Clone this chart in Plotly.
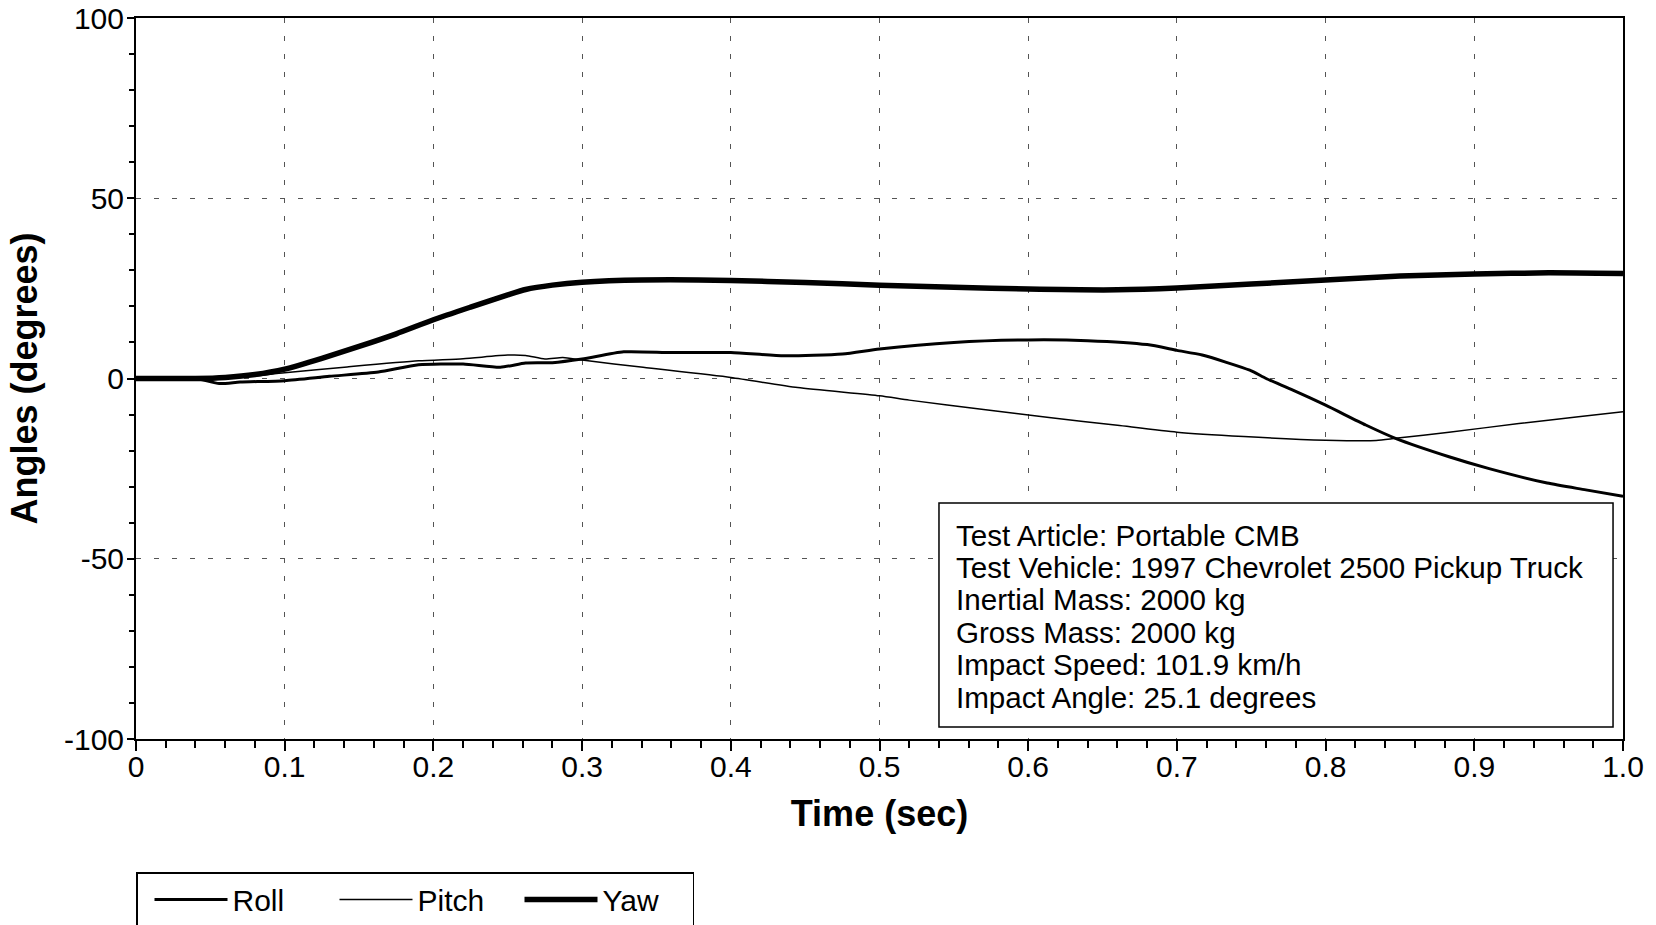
import plotly.graph_objects as go

# ---- data ----
yaw_t = [0, 0.04, 0.06, 0.08, 0.1, 0.125, 0.15, 0.175, 0.2, 0.225, 0.25, 0.262, 0.28, 0.3, 0.34,
         0.4, 0.45, 0.5, 0.55, 0.6, 0.66, 0.7, 0.75, 0.8, 0.85, 0.9, 0.95, 1.0]
yaw_v = [0, 0, 0.3, 1.1, 2.6, 5.6, 8.9, 12.4, 16.3, 19.8, 23.2, 24.7, 25.9, 26.7, 27.3,
         27.2, 26.6, 25.9, 25.3, 24.8, 24.6, 25.1, 26.2, 27.3, 28.4, 29.0, 29.3, 29.1]

roll_t = [0, 0.04, 0.056, 0.07, 0.1, 0.13, 0.163, 0.19, 0.22, 0.245, 0.262, 0.28, 0.3, 0.328,
          0.36, 0.4, 0.436, 0.475, 0.5, 0.55, 0.6, 0.64, 0.68, 0.7, 0.717, 0.749, 0.76, 0.778,
          0.8, 0.827, 0.847, 0.883, 0.91, 0.949, 0.975, 1.0]
roll_v = [0, 0, -1.4, -1.0, -0.6, 0.6, 1.8, 3.8, 4.0, 3.1, 4.3, 4.4, 5.4, 7.4,
          7.2, 7.2, 6.3, 6.8, 8.2, 10.0, 10.7, 10.5, 9.4, 7.8, 6.5, 2.3, 0.0, -3.2,
          -7.4, -12.9, -16.6, -21.7, -25.0, -29.0, -30.9, -32.7]

pitch_t = [0, 0.05, 0.07, 0.1, 0.142, 0.19, 0.22, 0.25, 0.262, 0.275, 0.287, 0.3, 0.341, 0.4,
           0.445, 0.5, 0.52, 0.57, 0.614, 0.66, 0.7, 0.745, 0.8, 0.834, 0.847, 0.883, 0.93, 0.97, 1.0]
pitch_v = [0, 0, 0.3, 1.6, 3.2, 4.9, 5.5, 6.5, 6.4, 5.4, 5.8, 5.1, 3.1, 0.3,
           -2.5, -4.8, -6.0, -8.6, -10.8, -13.0, -14.9, -16.1, -17.1, -17.2, -16.6, -14.9, -12.5, -10.6, -9.2]

x_tick_vals = [0, 0.1, 0.2, 0.3, 0.4, 0.5, 0.6, 0.7, 0.8, 0.9, 1.0]
x_tick_text = ["0", "0.1", "0.2", "0.3", "0.4", "0.5", "0.6", "0.7", "0.8", "0.9", "1.0"]
y_tick_vals = [100, 50, 0, -50, -100]
y_tick_text = ["100", "50", "0", "-50", "-100"]

info_lines = [
    "Test Article: Portable CMB",
    "Test Vehicle: 1997 Chevrolet 2500 Pickup Truck",
    "Inertial Mass: 2000 kg",
    "Gross Mass: 2000 kg",
    "Impact Speed: 101.9 km/h",
    "Impact Angle: 25.1 degrees",
]

FONT = "Liberation Sans, Arial, Helvetica, sans-serif"

W, H = 1656, 925
ML, MR, MT, MB = 136, 33, 18, 186
PH = H - MT - MB  # plot height in px


def py_to_paper(py):
    return (H - MB - py) / PH


fig = go.Figure()
fig.add_trace(go.Scatter(x=roll_t, y=roll_v, name="Roll", mode="lines",
                         line=dict(color="black", width=3, shape="spline", smoothing=0.6)))
fig.add_trace(go.Scatter(x=pitch_t, y=pitch_v, name="Pitch", mode="lines",
                         line=dict(color="black", width=1.5, shape="spline", smoothing=0.6)))
fig.add_trace(go.Scatter(x=yaw_t, y=yaw_v, name="Yaw", mode="lines",
                         line=dict(color="black", width=5.5, shape="spline", smoothing=0.6)))

axis_common = dict(
    showline=True, linecolor="black", linewidth=2, mirror=True,
    ticks="outside", tickcolor="black", tickwidth=1.5,
    showgrid=True, gridcolor="#555555", gridwidth=1, griddash="5px,13px",
    zeroline=False, automargin=False, ticklabeloverflow="allow",
    tickfont=dict(family=FONT, size=30, color="black"),
)

fig.update_xaxes(
    **axis_common, range=[0, 1.0], tickmode="array", tickvals=x_tick_vals, ticktext=x_tick_text,
    ticklen=10, ticklabelstandoff=-10,
    minor=dict(dtick=0.02, ticks="outside", ticklen=7, tickcolor="black", tickwidth=1.5, showgrid=False),
    title=dict(text="<b>Time (sec)</b>", font=dict(family=FONT, size=36, color="black"), standoff=19),
)
fig.update_yaxes(
    **axis_common, range=[-100, 100], tickmode="array", tickvals=y_tick_vals, ticktext=y_tick_text,
    ticklen=7, ticklabelstandoff=-3,
    minor=dict(dtick=10, ticks="outside", ticklen=5, tickcolor="black", tickwidth=1.5, showgrid=False),
    title=dict(text="<b>Angles (degrees)</b>", font=dict(family=FONT, size=36, color="black"), standoff=15),
)

# info box
fig.add_shape(type="rect", xref="paper", yref="paper", x0=0.540, x1=0.9933,
              y0=py_to_paper(727), y1=py_to_paper(503),
              line=dict(color="black", width=1.5), fillcolor="white", layer="above")
for i, txt in enumerate(info_lines):
    fig.add_annotation(text=txt, xref="paper", yref="paper", x=0.5501, y=py_to_paper(535 + i * 32.4),
                       xanchor="left", yanchor="middle", showarrow=False,
                       font=dict(family=FONT, size=29.6, color="black"))

fig.update_layout(
    width=W, height=H,
    margin=dict(l=ML, r=MR, t=MT, b=MB, autoexpand=False),
    plot_bgcolor="white", paper_bgcolor="white",
    font=dict(family=FONT, color="black"),
    showlegend=True,
    hovermode=False,
    legend=dict(orientation="h", x=0.0, y=py_to_paper(872), xanchor="left", yanchor="top",
                bordercolor="black", borderwidth=1.5, bgcolor="white",
                font=dict(family=FONT, size=30, color="black"),
                entrywidth=85, entrywidthmode="pixels", itemwidth=73, indentation=12,
                traceorder="normal"),
)

fig.write_html("out.html", config={"displayModeBar": False},
               post_script="document.body.style.margin='0';")
